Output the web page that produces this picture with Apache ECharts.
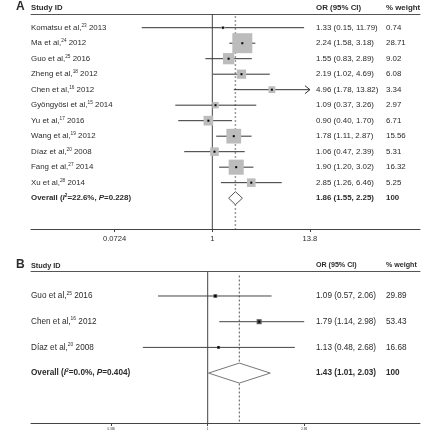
<!DOCTYPE html>
<html>
<head>
<meta charset="utf-8">
<script src="https://cdn.jsdelivr.net/npm/echarts@6/dist/echarts.min.js"></script>
<style>
html, body { margin: 0; padding: 0; background: #fff; }
#myChart { width: 426px; height: 440px; }
</style>
</head>
<body>
<div id="myChart"></div>
<script>
/* 森林图 A / B */
// ---- panel A data ----
var namesA = ['Komatsu et al,', 'Ma et al,', 'Guo et al,', 'Zheng et al,', 'Chen et al,', 'Gyöngyösi et al,', 'Yu et al,', 'Wang et al,', 'Díaz et al,', 'Fang et al,', 'Xu et al,'];
var refsA = ['23', '24', '25', '18', '16', '15', '17', '19', '20', '27', '28'];
var yearsA = ['2013', '2012', '2016', '2012', '2012', '2014', '2016', '2012', '2008', '2014', '2014'];
var orA = [1.33, 2.24, 1.55, 2.19, 4.96, 1.09, 0.90, 1.78, 1.06, 1.90, 2.85];
var lowA = [0.15, 1.58, 0.83, 1.02, 1.78, 0.37, 0.40, 1.11, 0.47, 1.20, 1.26];
var highA = [11.79, 3.18, 2.89, 4.69, 13.82, 3.26, 1.70, 2.87, 2.39, 3.02, 6.46];
var weightA = [0.74, 28.71, 9.02, 6.08, 3.34, 2.97, 6.71, 15.56, 5.31, 16.32, 5.25];
var overallA = [1.86, 1.55, 2.25];
var hetA = ['22.6%', '0.228'];
var ticksA = [0.0724, 1, 13.8];

// ---- panel B data ----
var namesB = ['Guo et al,', 'Chen et al,', 'Díaz et al,'];
var refsB = ['25', '16', '20'];
var yearsB = ['2016', '2012', '2008'];
var orB = [1.09, 1.79, 1.13];
var lowB = [0.57, 1.14, 0.48];
var highB = [2.06, 2.98, 2.68];
var weightB = [29.89, 53.43, 16.68];
var overallB = [1.43, 1.01, 2.03];
var hetB = ['0.0%', '0.404'];
var ticksB = [0.336, 1, 2.98];

var FONT = '"Liberation Sans", Arial, Helvetica, sans-serif';
var TXT = '#2b2b2b';
var COL_OR = 316, COL_W = 386;

var myChart = echarts.init(document.getElementById('myChart'));

function fmt2(v) { return v.toFixed(2); }

function tickFormatter(ticks) {
    return function (v) {
        for (var i = 0; i < ticks.length; i++) {
            if (Math.abs(Math.log(ticks[i]) - v) < 1e-6) return String(ticks[i]);
        }
        return '';
    };
}

function xAxes(gi, ticks, min, max, labelSize, labelMargin) {
    var vals = ticks.map(function (t) { return Math.log(t); });
    return [{
        gridIndex: gi, type: 'value', min: min, max: max, position: 'bottom',
        axisLine: { onZero: false, lineStyle: { color: '#444', width: 1 } },
        axisTick: { show: true, customValues: vals, length: 3, lineStyle: { color: '#444' } },
        axisLabel: { customValues: vals, formatter: tickFormatter(ticks), fontSize: labelSize, fontFamily: FONT, color: TXT, margin: labelMargin },
        splitLine: { show: false }
    }, {
        gridIndex: gi, type: 'value', min: min, max: max, position: 'top',
        axisLine: { onZero: false, lineStyle: { color: '#555', width: 1 } },
        axisTick: { show: false }, axisLabel: { show: false }, splitLine: { show: false }
    }];
}

function panelSeries(gi, d) {
    var xi = gi * 2, yi = gi;
    var n = d.names.length;
    var ciData = [], boxData = [], txtData = [];
    var maxW = Math.max.apply(null, d.weight);
    for (var i = 0; i < n; i++) {
        var hi = Math.min(d.high[i], d.clip);
        ciData.push([Math.log(d.low[i]), Math.log(hi), i, d.high[i] > d.clip ? 1 : 0]);
        boxData.push([Math.log(d.or[i]), i, d.weight[i]]);
        txtData.push([0, i]);
    }
    txtData.push([0, n]);

    return [{
        // 参考线：无效线 + 合并估计虚线
        type: 'custom', xAxisIndex: xi, yAxisIndex: yi, z: 1, silent: true,
        data: [[0, 0], [Math.log(d.overall[0]), 1]],
        renderItem: function (params, api) {
            var x = api.coord([api.value(0), 0])[0];
            var cs = params.coordSys;
            var dashed = api.value(1) === 1;
            return {
                type: 'line',
                shape: { x1: x, y1: cs.y + (dashed ? d.dashGap : 0), x2: x, y2: cs.y + cs.height },
                style: dashed ? { stroke: d.dashColor, lineWidth: d.dashWidth, lineDash: [2, 2] } : { stroke: '#444', lineWidth: 1 }
            };
        }
    }, {
        // 置信区间
        type: 'custom', xAxisIndex: xi, yAxisIndex: yi, z: 2, silent: true,
        encode: { x: [0, 1], y: 2 },
        data: ciData,
        renderItem: function (params, api) {
            var p1 = api.coord([api.value(0), api.value(2)]);
            var p2 = api.coord([api.value(1), api.value(2)]);
            var kids = [{
                type: 'line',
                shape: { x1: p1[0], y1: p1[1], x2: p2[0], y2: p2[1] },
                style: { stroke: d.ciColor, lineWidth: 1 }
            }];
            if (api.value(3) === 1) {
                kids.push({
                    type: 'polyline',
                    shape: { points: [[p2[0] - 5, p2[1] - 4], [p2[0], p2[1]], [p2[0] - 5, p2[1] + 4]] },
                    style: { stroke: d.ciColor, lineWidth: 1, fill: null }
                });
            }
            return { type: 'group', children: kids };
        }
    }, {
        // 权重方块 + 点估计
        type: 'custom', xAxisIndex: xi, yAxisIndex: yi, z: 3, silent: true,
        encode: { x: 0, y: 1 },
        data: boxData,
        renderItem: function (params, api) {
            var c = api.coord([api.value(0), api.value(1)]);
            var s = d.boxMax * Math.sqrt(api.value(2) / maxW);
            return {
                type: 'group',
                children: [{
                    type: 'rect',
                    shape: { x: c[0] - s / 2, y: c[1] - s / 2, width: s, height: s },
                    style: { fill: d.boxColor }
                }, {
                    type: 'rect',
                    shape: { x: c[0] - 1, y: c[1] - 1, width: 2, height: 2 },
                    style: { fill: '#000' }
                }]
            };
        }
    }, {
        // 合并菱形
        type: 'custom', xAxisIndex: xi, yAxisIndex: yi, z: 4, silent: true,
        encode: { x: [0, 1, 2], y: 3 },
        data: [[Math.log(d.overall[0]), Math.log(d.overall[1]), Math.log(d.overall[2]), n]],
        renderItem: function (params, api) {
            var c = api.coord([api.value(0), api.value(3)]);
            var l = api.coord([api.value(1), api.value(3)]);
            var r = api.coord([api.value(2), api.value(3)]);
            var h = d.diamondH / 2;
            return {
                type: 'polygon',
                shape: { points: [[l[0], c[1]], [c[0], c[1] - h], [r[0], c[1]], [c[0], c[1] + h]] },
                style: { fill: '#fff', stroke: d.diamondColor, lineWidth: 1 }
            };
        }
    }, {
        // 文字列
        type: 'custom', xAxisIndex: xi, yAxisIndex: yi, z: 5, silent: true,
        encode: { x: 0, y: 1 },
        data: txtData,
        renderItem: function (params, api) {
            var i = params.dataIndex;
            var y = api.coord([0, api.value(1)])[1];
            var x0 = params.coordSys.x;
            var bold = i === n;
            var nameText, orText, wText;
            if (bold) {
                nameText = 'Overall ({i|I}{s|2}=' + d.het[0] + ', {i|P}=' + d.het[1] + ')';
                orText = fmt2(d.overall[0]) + ' (' + fmt2(d.overall[1]) + ', ' + fmt2(d.overall[2]) + ')';
                wText = '100';
            } else {
                nameText = d.names[i] + '{s|' + d.refs[i] + '} ' + d.years[i];
                orText = fmt2(d.or[i]) + ' (' + fmt2(d.low[i]) + ', ' + fmt2(d.high[i]) + ')';
                wText = fmt2(d.weight[i]);
            }
            var fw = bold ? 'bold' : 'normal';
            var base = { fontSize: d.fontSize, fontFamily: FONT, fontWeight: fw, fill: TXT, verticalAlign: 'middle', align: 'left' };
            return {
                type: 'group',
                children: [{
                    type: 'text', x: x0, y: y,
                    style: Object.assign({}, base, {
                        text: nameText,
                        rich: {
                            s: { fontSize: d.fontSize * 0.6, fontFamily: FONT, fontWeight: fw, fill: TXT, verticalAlign: 'top', lineHeight: d.fontSize + 2 },
                            i: { fontSize: d.fontSize, fontFamily: FONT, fontWeight: fw, fontStyle: 'italic', fill: TXT, lineHeight: d.fontSize + 2 }
                        }
                    })
                }, {
                    type: 'text', x: COL_OR, y: y,
                    style: Object.assign({}, base, { text: orText })
                }, {
                    type: 'text', x: COL_W, y: y,
                    style: Object.assign({}, base, { text: wText })
                }]
            };
        }
    }];
}

var dataA = {
    names: namesA, refs: refsA, years: yearsA, or: orA, low: lowA, high: highA, weight: weightA,
    overall: overallA, het: hetA, clip: ticksA[2],
    fontSize: 7.9, boxMax: 20, boxColor: '#bcbcbc', ciColor: '#333', diamondH: 13, diamondColor: '#555',
    dashColor: '#9a9a9a', dashWidth: 1.5, dashGap: 2
};
var dataB = {
    names: namesB, refs: refsB, years: yearsB, or: orB, low: lowB, high: highB, weight: weightB,
    overall: overallB, het: hetB, clip: ticksB[2] + 1,
    fontSize: 8.2, boxMax: 5, boxColor: '#555', ciColor: '#444', diamondH: 20, diamondColor: '#777',
    dashColor: '#555', dashWidth: 1, dashGap: 4
};

function headerText(x, y, text, size) {
    return {
        type: 'text', x: x, y: y,
        style: { text: text, fontSize: size, fontWeight: 'bold', fontFamily: FONT, fill: TXT, verticalAlign: 'middle', align: 'left' }
    };
}

var option = {
    animation: false,
    backgroundColor: '#fff',
    grid: [
        { left: 31, right: 6, top: 14, height: 215 },
        { left: 31, right: 6, top: 271.5, height: 151.5 }
    ],
    xAxis: [].concat(
        xAxes(0, ticksA, -4.874, 5.583, 7.6, 6),
        xAxes(1, ticksB, -1.999, 2.402, 3, 5)
    ),
    yAxis: [
        { gridIndex: 0, type: 'value', min: -0.884, max: 12.99, inverse: true, show: false },
        { gridIndex: 1, type: 'value', min: -0.953, max: 4.942, inverse: true, show: false }
    ],
    graphic: [
        headerText(16, 7, 'A', 12),
        headerText(31, 7.5, 'Study ID', 7.8),
        headerText(COL_OR, 7.5, 'OR (95% CI)', 7.9),
        headerText(COL_W, 7.5, '% weight', 7.9),
        headerText(16, 265, 'B', 12),
        headerText(31, 265.5, 'Study ID', 7.3),
        headerText(COL_OR, 265.5, 'OR (95% CI)', 7.1),
        headerText(COL_W, 265.5, '% weight', 7.1)
    ],
    series: [].concat(panelSeries(0, dataA), panelSeries(1, dataB))
};

myChart.setOption(option);
</script>
</body>
</html>
